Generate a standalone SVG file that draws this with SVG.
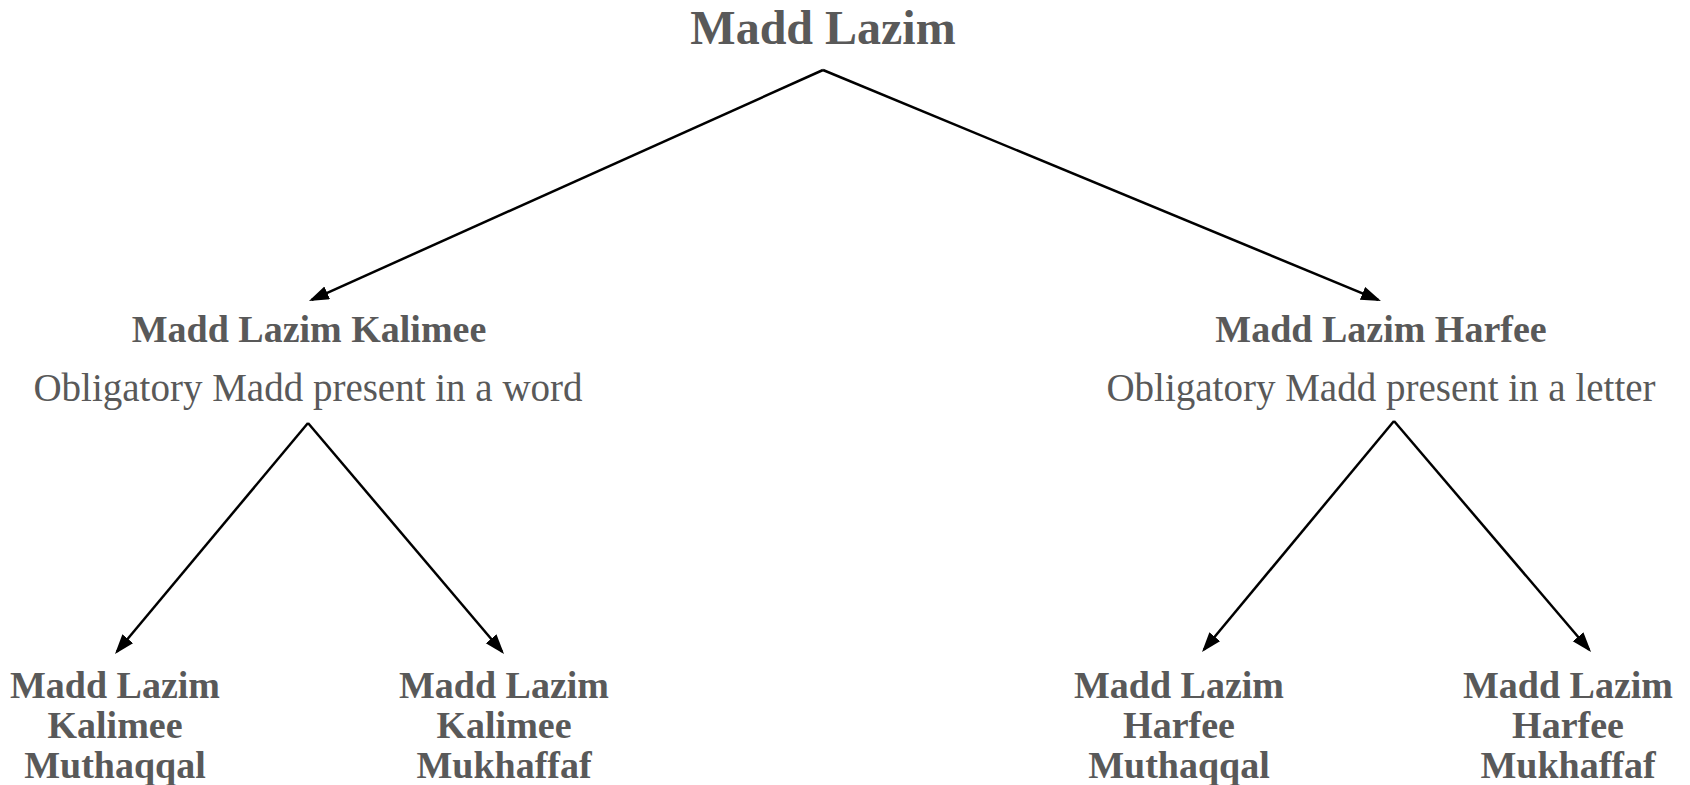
<svg xmlns="http://www.w3.org/2000/svg" width="1690" height="785" viewBox="0 0 1690 785">
  <defs>
    <marker id="arrow" markerUnits="userSpaceOnUse" markerWidth="22" markerHeight="16" refX="17" refY="7" orient="auto">
      <path d="M0,0 L20,7 L0,14 z" fill="#000"/>
    </marker>
    <style>
      .t { font-family: "Liberation Serif", "Times New Roman", serif; fill: #595959; text-anchor: middle; }
      .title { font-size: 48px; font-weight: bold; }
      .head { font-size: 38px; font-weight: bold; }
      .sub { font-size: 39px; }
      .edge { stroke: #000; stroke-width: 2.5; fill: none; marker-end: url(#arrow); }
    </style>
  </defs>
  <rect width="1690" height="785" fill="#fff"/>
  <g id="connectors">
    <path class="edge" d="M823,70 L311.7,299.8"/>
    <path class="edge" d="M823,70 L1378.2,299.9"/>
    <path class="edge" d="M308,423 L116.9,651.7"/>
    <path class="edge" d="M308,423 L502.1,651.7"/>
    <path class="edge" d="M1394,421 L1203.9,649.7"/>
    <path class="edge" d="M1394,421 L1589.1,649.7"/>
  </g>
  <g id="root">
    <text class="t title" x="823" y="44">Madd Lazim</text>
  </g>
  <g id="kalimee">
    <text class="t head" x="309" y="342">Madd Lazim Kalimee</text>
    <text class="t sub" x="308" y="401">Obligatory Madd present in a word</text>
  </g>
  <g id="harfee">
    <text class="t head" x="1381" y="342">Madd Lazim Harfee</text>
    <text class="t sub" x="1381" y="401">Obligatory Madd present in a letter</text>
  </g>
  <g id="kalimee-muthaqqal">
    <text class="t head" x="115" y="698">Madd Lazim</text>
    <text class="t head" x="115" y="738">Kalimee</text>
    <text class="t head" x="115" y="778">Muthaqqal</text>
  </g>
  <g id="kalimee-mukhaffaf">
    <text class="t head" x="504" y="698">Madd Lazim</text>
    <text class="t head" x="504" y="738">Kalimee</text>
    <text class="t head" x="504" y="778">Mukhaffaf</text>
  </g>
  <g id="harfee-muthaqqal">
    <text class="t head" x="1179" y="698">Madd Lazim</text>
    <text class="t head" x="1179" y="738">Harfee</text>
    <text class="t head" x="1179" y="778">Muthaqqal</text>
  </g>
  <g id="harfee-mukhaffaf">
    <text class="t head" x="1568" y="698">Madd Lazim</text>
    <text class="t head" x="1568" y="738">Harfee</text>
    <text class="t head" x="1568" y="778">Mukhaffaf</text>
  </g>
</svg>
